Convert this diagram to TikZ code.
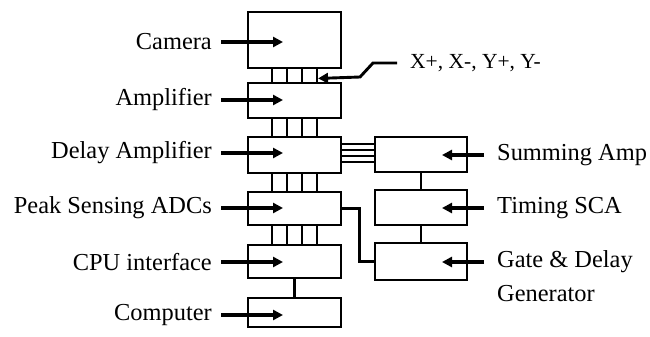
\documentclass[tikz,border=0pt]{standalone}
\usepackage{fontspec}
\setmainfont{Liberation Serif}
\usetikzlibrary{arrows.meta,calc}
\begin{document}
\begin{tikzpicture}[x=1pt,y=-1pt,
  blk/.style={draw,line width=2.9pt,rectangle,inner sep=0pt,minimum width=93pt},
  rblk/.style={draw,line width=2.9pt,rectangle,inner sep=0pt,minimum width=92pt},
  lab/.style={inner sep=0pt,font=\fontsize{24.4}{29}\selectfont},
  small/.style={inner sep=0pt,font=\fontsize{21.5}{24}\selectfont},
  arr/.style={line width=3.2pt,-{Triangle[length=10pt,width=10pt]}},
  wire/.style={line width=2.9pt}]
\useasboundingbox (0,0) rectangle (650,337);
% left column boxes
\node[blk,minimum height=56pt] (cam) at (294.5,40) {};
\node[blk,minimum height=35pt] (amp) at (294.5,100.5) {};
\node[blk,minimum height=36pt] (dly) at (294.5,155) {};
\node[blk,minimum height=33pt] (pk) at (294.5,208.5) {};
\node[blk,minimum height=33pt] (cpu) at (294.5,261.5) {};
\node[blk,minimum height=29pt] (cmp) at (294.5,312.5) {};
% right column boxes
\node[rblk,minimum height=35pt] (sum) at (421,154.5) {};
\node[rblk,minimum height=35pt] (tim) at (421,207.5) {};
\node[rblk,minimum height=37pt] (gate) at (421,261.5) {};
% left labels and arrows
\foreach \b/\t/\y in {cam/Camera/42, amp/Amplifier/100, dly/Delay Amplifier/153, pk/Peak Sensing ADCs/208, cpu/CPU interface/262, cmp/Computer/315}{
  \node[lab,anchor=east] (l\b) at (212,\y) {\t};
  \coordinate (s\b) at (221,\y);
  \coordinate (t\b) at (283,\y);
  \draw[arr] (s\b) -- (t\b);
}
% right labels and arrows
\node[lab,anchor=west] (lsum) at (497,155) {Summing Amp};
\node[lab,anchor=west] (ltim) at (497,208) {Timing SCA};
\node[lab,anchor=west,align=left] (lgate) at (497,276) {Gate \& Delay\\[5pt]Generator};
\foreach \b/\y in {sum/155, tim/208, gate/262}{
  \coordinate (s\b) at (484,\y);
  \coordinate (t\b) at (442,\y);
  \draw[arr] (s\b) -- (t\b);
}
% buses between left boxes
\foreach \u/\v in {cam/amp, amp/dly, dly/pk, pk/cpu}{
  \foreach \dx in {-22.5,-7.5,7.5,22.5}{
    \draw[wire] ($(\u.south)+(\dx,0)$) -- ($(\v.north)+(\dx,0)$);
  }
}
\draw[wire] (cpu.south) -- (cmp.north);
% delay amp to summing amp: four lines
\foreach \dy [count=\i] in {-11,-5,1,7}{
  \coordinate (h\i) at ($(dly.east)+(0,\dy)$);
  \draw[wire] (h\i) -- (h\i -| sum.west);
}
% right column links
\draw[wire] (sum.south) -- (tim.north);
\draw[wire] (tim.south) -- (gate.north);
% peak ADC to gate
\draw[wire] (pk.east) -- ++(17,0) |- (gate.west);
% X/Y label
\node[small,anchor=west] (xl) at (410,63) {X+, X-, Y+, Y-};
\coordinate (xs) at (397,63);
\coordinate (xt) at ($(cam.south)+(23.5,9)$);
\draw[arr,line width=2.9pt] (xs) -- (373,63) -- (360,77) -- (xt);
\end{tikzpicture}
\end{document}
